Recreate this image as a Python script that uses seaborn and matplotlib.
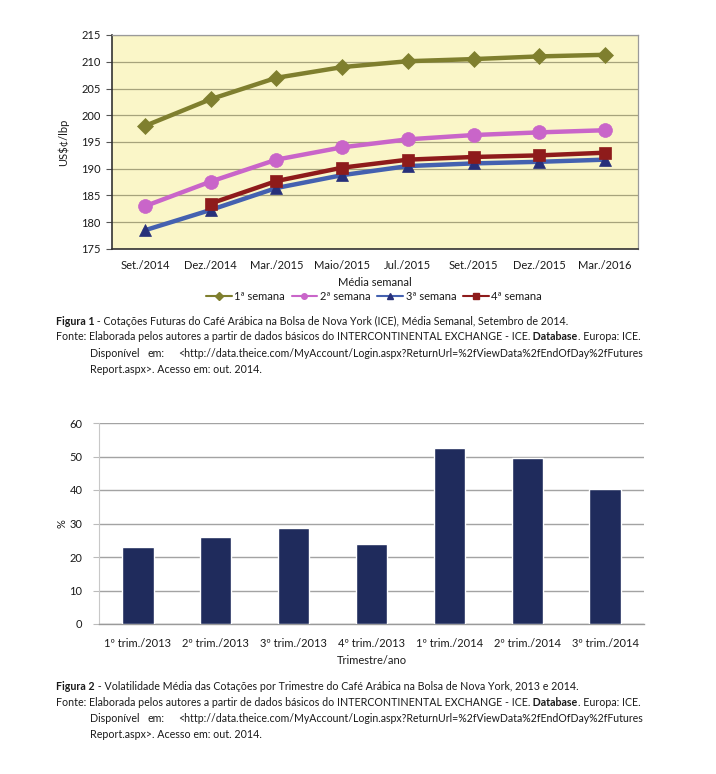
import matplotlib
matplotlib.use("Agg")
import matplotlib.pyplot as plt
import seaborn as sns
import numpy as np
from matplotlib.lines import Line2D

# ---------------- data ----------------
months = ["Set./2014", "Dez./2014", "Mar./2015", "Maio/2015",
          "Jul./2015", "Set./2015", "Dez./2015", "Mar./2016"]
sem1 = [198.0, 203.0, 207.0, 209.0, 210.1, 210.5, 211.0, 211.3]
sem2 = [183.0, 187.6, 191.7, 194.0, 195.5, 196.3, 196.8, 197.2]
sem3 = [178.5, 182.3, 186.4, 188.8, 190.5, 191.0, 191.3, 191.7]
sem4 = [np.nan, 183.5, 187.7, 190.2, 191.7, 192.2, 192.5, 193.0]
series_names = ["1ª semana", "2ª semana", "3ª semana", "4ª semana"]
top_yticks = [175, 180, 185, 190, 195, 200, 205, 210, 215]

quarters = ["1º trim./2013", "2º trim./2013", "3º trim./2013", "4º trim./2013",
            "1º trim./2014", "2º trim./2014", "3º trim./2014"]
volatility = [23.0, 26.0, 28.8, 24.0, 52.6, 49.7, 40.2]
bottom_yticks = [0, 10, 20, 30, 40, 50, 60]

caption1 = [("Figura 1", "bold"),
            (" - Cotações Futuras do Café Arábica na Bolsa de Nova York (ICE), Média Semanal, Setembro de 2014.", "normal")]
caption2 = [("Figura 2", "bold"),
            (" - Volatilidade Média das Cotações por Trimestre do Café Arábica na Bolsa de Nova York, 2013 e 2014.", "normal")]
fonte = [("Fonte: Elaborada pelos autores a partir de dados básicos do INTERCONTINENTAL EXCHANGE - ICE.", "normal"),
         (" Database", "bold"), (". Europa: ICE.", "normal")]
disp_words = ["Disponível", "em:", "<http://data.theice.com/MyAccount/Login.aspx?ReturnUrl=%2fViewData%2fEndOfDay%2fFutures"]
report_line = "Report.aspx>. Acesso em: out. 2014."

# ---------------- style ----------------
sns.set_style("white")
plt.rcParams["font.family"] = ["Lato", "DejaVu Sans"]
TXT = "#1a1a1a"
plt.rcParams["text.color"] = TXT
plt.rcParams["axes.labelcolor"] = TXT
plt.rcParams["xtick.color"] = TXT
plt.rcParams["ytick.color"] = TXT

W, H = 716, 774
fig = plt.figure(figsize=(W / 100, H / 100), dpi=100)
fig.patch.set_facecolor("white")

def ax_rect(l, t, r, b):
    return [l / W, 1 - b / H, (r - l) / W, (b - t) / H]

FS = 8.0

# ---------------- top chart ----------------
ax1 = fig.add_axes(ax_rect(112, 35, 638, 249))
ax1.set_facecolor("#FAF6C8")

styles = [
    dict(color="#7F7F2E", marker="D", markersize=8, mfc="#7F7F2E", mec="#7F7F2E"),
    dict(color="#C965C9", marker="o", markersize=10, mfc="#C965C9", mec="#C965C9"),
    dict(color="#4461B0", marker="^", markersize=8.5, mfc="#27307A", mec="#27307A"),
    dict(color="#8E1B1B", marker="s", markersize=9, mfc="#8E1B1B", mec="#8E1B1B"),
]
for vals, st in zip([sem1, sem2, sem3, sem4], styles):
    sns.lineplot(x=months, y=vals, ax=ax1, color=st["color"], linewidth=3.2,
                 marker=st["marker"], markersize=st["markersize"],
                 markerfacecolor=st["mfc"], markeredgecolor=st["mec"],
                 markeredgewidth=0.5, zorder=3)

ax1.set_xlim(-0.5, len(months) - 0.5)
ax1.set_ylim(175, 215)
ax1.set_yticks(top_yticks)
ax1.yaxis.grid(True, color="#A6A37C", linewidth=0.9)
ax1.set_axisbelow(True)
ax1.set_xticks(range(len(months)))
ax1.set_xticklabels(months)
ax1.set_xticks(np.arange(-0.5, len(months)), minor=True)
ax1.tick_params(axis="x", which="major", length=0, pad=8, labelsize=FS)
ax1.tick_params(axis="x", which="minor", length=4, width=0.8, color="#555555", direction="out")
ax1.tick_params(axis="y", which="major", length=4, width=0.8, color="#555555",
                direction="out", pad=4, labelsize=FS, left=True)
for s in ["left", "bottom"]:
    ax1.spines[s].set_color("#333333")
    ax1.spines[s].set_linewidth(1.2)
for s in ["top", "right"]:
    ax1.spines[s].set_color("#9A9A9A")
    ax1.spines[s].set_linewidth(0.9)
ax1.set_xlabel("Média semanal", fontsize=FS)
ax1.xaxis.set_label_coords(0.5, (249 - 283) / 214)
ax1.xaxis.label.set_va("center")
ax1.set_ylabel("US\\$¢/lbp", fontsize=FS)
ax1.yaxis.set_label_coords((63 - 112) / 526, 0.5)
ax1.yaxis.label.set_va("center")

handles = [Line2D([0], [0], color=st["color"], linewidth=1.5, marker=st["marker"],
                  markersize=4, markerfacecolor=st["mfc"], markeredgecolor=st["mec"])
           for st in styles]
fig.legend(handles, series_names, loc="center", bbox_to_anchor=(374 / W, 1 - 296 / H),
           ncol=4, frameon=False, fontsize=FS, handlelength=2.3, handletextpad=0.25,
           columnspacing=0.6, borderpad=0, borderaxespad=0)

# ---------------- bottom chart ----------------
ax2 = fig.add_axes(ax_rect(99, 423, 644, 624))
sns.barplot(x=quarters, y=volatility, ax=ax2, color="#1F2B5C", saturation=1,
            width=0.4, zorder=3)
ax2.set_xlim(-0.5, len(quarters) - 0.5)
ax2.set_ylim(0, 60)
ax2.set_yticks(bottom_yticks)
ax2.yaxis.grid(True, color="#A3A3A3", linewidth=1.0)
ax2.set_axisbelow(True)
ax2.set_xticks(range(len(quarters)))
ax2.set_xticklabels(quarters)
ax2.set_xticks(np.arange(-0.5, len(quarters)), minor=True)
ax2.tick_params(axis="x", which="major", length=0, pad=10, labelsize=FS)
ax2.tick_params(axis="x", which="minor", length=4, width=0.8, color="#9A9A9A", direction="out")
ax2.tick_params(axis="y", which="major", length=4, width=0.8, color="#BBBBBB",
                direction="out", pad=8, labelsize=FS, left=True)
for s in ["top", "right"]:
    ax2.spines[s].set_visible(False)
ax2.spines["left"].set_color("#C8C8C8")
ax2.spines["left"].set_linewidth(0.8)
ax2.spines["bottom"].set_color("#9A9A9A")
ax2.spines["bottom"].set_linewidth(1.0)
ax2.set_xlabel("Trimestre/ano", fontsize=FS)
ax2.xaxis.set_label_coords(0.5, (624 - 660) / 201)
ax2.xaxis.label.set_va("center")
ax2.set_ylabel("%", fontsize=FS)
ax2.yaxis.set_label_coords((62 - 99) / 545, 0.5)
ax2.yaxis.label.set_va("center")

# ---------------- captions ----------------
CAP = 7.7
URL = 7.6
renderer = fig.canvas.get_renderer()

def runs(x_px, y_px, parts):
    x = x_px
    for txt, wt in parts:
        t = fig.text(x / W, 1 - y_px / H, txt, fontsize=CAP, fontweight=wt,
                     ha="left", va="center")
        x += t.get_window_extent(renderer=renderer).width

def source_block(y0):
    runs(56, y0, fonte)
    fig.text(90 / W, 1 - (y0 + 16.5) / H, disp_words[0], fontsize=CAP, ha="left", va="center")
    fig.text(147 / W, 1 - (y0 + 16.5) / H, disp_words[1], fontsize=CAP, ha="left", va="center")
    fig.text(643 / W, 1 - (y0 + 16.5) / H, disp_words[2], fontsize=URL, ha="right", va="center")
    fig.text(90 / W, 1 - (y0 + 32.5) / H, report_line, fontsize=CAP, ha="left", va="center")

runs(56, 321, caption1)
source_block(337)
runs(56, 686, caption2)
source_block(702)

fig.savefig("out.png", dpi=100, facecolor="white")
